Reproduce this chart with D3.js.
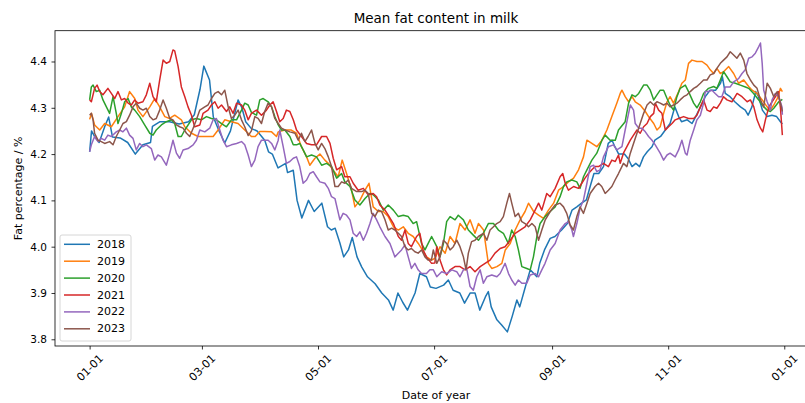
<!DOCTYPE html>
<head>
  <meta charset="utf-8">
  <title>Mean fat content in milk</title>
  <script src="https://d3js.org/d3.v7.min.js"></script>
  <style>
    body { margin: 0; background: #fff; }
    text { font-family: "DejaVu Sans", sans-serif; fill: #000; }
  </style>
</head>
<body>
<script>
// day of year (0 = Jan 1) and mean fat percentage
var years = ["2018", "2019", "2020", "2021", "2022", "2023"];
var colors = ["#1f77b4", "#ff7f0e", "#2ca02c", "#d62728", "#9467bd", "#8c564b"];
var yTicks = [3.8, 3.9, 4.0, 4.1, 4.2, 4.3, 4.4];

var fat2018 = [[0,4.205],[1,4.25],[3,4.235],[5,4.225],[8,4.26],[10,4.28],[12,4.237],[16,4.235],[20,4.225],[24,4.20],[28,4.22],[32,4.225],[33,4.26],[37,4.27],[42,4.27],[47,4.265],[52,4.27],[55,4.285],[58,4.34],[60,4.39],[63,4.36],[65,4.28],[68,4.25],[71,4.224],[74,4.25],[78,4.317],[80,4.30],[82,4.27],[85,4.255],[88,4.25],[92,4.23],[94,4.205],[96,4.20],[99,4.17],[103,4.18],[104,4.16],[107,4.165],[109,4.10],[111.5,4.062],[115,4.10],[118,4.076],[122,4.094],[125,4.043],[127,4.036],[129,4.04],[131.5,4.008],[133.5,3.978],[136,3.993],[138,4.02],[140.5,3.978],[143,3.956],[146,3.935],[150,3.92],[153.5,3.90],[157,3.885],[159.5,3.863],[162,3.90],[164.5,3.88],[167,3.863],[171,3.90],[173.5,3.942],[177,3.935],[179,3.913],[182,3.91],[186,3.917],[188.5,3.928],[191,3.906],[194.5,3.90],[197,3.878],[200,3.90],[202.5,3.90],[205,3.863],[208,3.892],[209.5,3.903],[211,3.87],[214,3.842],[216.5,3.831],[219.5,3.816],[222,3.849],[224.5,3.885],[226,3.87],[229,3.914],[231.5,3.95],[235,3.935],[236.5,3.964],[239,3.993],[242,4.018],[244.5,4.022],[248,4.036],[251,4.05],[253.5,4.079],[256,4.086],[258.5,4.094],[261,4.101],[263,4.13],[265,4.158],[267.5,4.158],[270,4.173],[272.5,4.223],[274.5,4.23],[276,4.216],[278,4.20],[281,4.20],[283,4.19],[285,4.173],[287,4.18],[289,4.173],[291,4.194],[293,4.205],[295.5,4.216],[297,4.23],[300,4.238],[302.5,4.252],[305,4.266],[307.5,4.302],[309.5,4.281],[311,4.27],[314,4.274],[316.5,4.266],[318,4.277],[321,4.302],[323.5,4.324],[326,4.338],[329,4.338],[331.5,4.353],[332.5,4.367],[334,4.331],[336.5,4.324],[339,4.313],[342,4.302],[344.5,4.295],[346,4.284],[348,4.302],[350,4.335],[351.5,4.324],[353.5,4.295],[356,4.281],[358.5,4.284],[361,4.281],[363,4.27],[364,4.265]];

var fat2019 = [[0,4.275],[1,4.288],[2.6,4.263],[5.3,4.252],[7.9,4.266],[11.4,4.259],[14.9,4.281],[18.4,4.302],[21,4.335],[23.7,4.32],[25.4,4.295],[28,4.281],[31.6,4.302],[34.2,4.32],[36.8,4.302],[39.5,4.281],[42,4.277],[44.7,4.284],[48.2,4.274],[50,4.259],[53.5,4.245],[57,4.238],[60.5,4.238],[64.9,4.238],[67.5,4.252],[71,4.274],[74.5,4.27],[78,4.266],[81.5,4.252],[85,4.238],[87,4.238],[89.4,4.249],[92,4.249],[95.6,4.248],[98.2,4.238],[99.1,4.248],[102.6,4.252],[106,4.252],[108.7,4.245],[111.3,4.216],[114,4.194],[115.7,4.176],[118.4,4.191],[121,4.2],[123.6,4.187],[125.4,4.18],[128,4.165],[130.6,4.151],[132.7,4.187],[135,4.158],[137.6,4.123],[139.4,4.086],[142,4.1],[144.7,4.122],[146.8,4.137],[149,4.086],[151.7,4.076],[154.3,4.076],[156.9,4.065],[159.6,4.043],[162.2,4.036],[164.8,4.043],[167.4,4.029],[170,4.022],[172.7,4.007],[174.4,3.996],[177,3.978],[179.7,3.971],[181.5,3.975],[184.1,4.0],[186.8,3.986],[189.4,4.022],[192,4.007],[194.6,4.05],[197.3,4.036],[199.9,4.058],[202.5,4.029],[204.3,4.05],[207,4.036],[209.5,3.964],[211.3,3.953],[214,3.957],[216.6,3.964],[218.4,3.993],[221,4.007],[223.6,4.036],[226.2,4.058],[228.8,4.076],[230.6,4.094],[233.3,4.076],[235.9,4.068],[238.5,4.061],[241.1,4.079],[243.8,4.094],[246.4,4.122],[249,4.13],[251.6,4.14],[254.3,4.148],[256.9,4.166],[259.5,4.194],[261.3,4.23],[263.9,4.223],[266.5,4.216],[269.2,4.23],[271.8,4.252],[274.4,4.281],[277,4.31],[278.8,4.331],[279.7,4.338],[281.4,4.324],[283.2,4.313],[285,4.324],[286.7,4.313],[289.3,4.306],[292,4.292],[293.7,4.281],[296.4,4.266],[298.1,4.252],[299.8,4.259],[301.6,4.288],[303.4,4.313],[305,4.324],[306.8,4.31],[309.5,4.335],[311.2,4.353],[313,4.36],[314.7,4.396],[316.5,4.403],[319.1,4.4],[321.8,4.4],[324.4,4.392],[326.1,4.382],[327.9,4.374],[329.6,4.385],[331.4,4.374],[333.1,4.378],[335.8,4.389],[338.4,4.374],[341,4.353],[343.7,4.36],[346.3,4.346],[348.1,4.338],[350.7,4.331],[353.4,4.317],[356,4.302],[357.7,4.295],[359.5,4.306],[361.3,4.32],[363,4.342],[364,4.335]];

var fat2020 = [[0,4.317],[0.9,4.345],[1.8,4.349],[3.5,4.335],[5.3,4.338],[7,4.317],[8.8,4.302],[10.5,4.288],[12.3,4.324],[14,4.288],[14.9,4.266],[16.7,4.288],[18.4,4.313],[20.2,4.32],[21.9,4.302],[23.7,4.295],[26.3,4.281],[28.9,4.263],[31.6,4.245],[33.3,4.241],[35,4.252],[37.7,4.263],[40.3,4.27],[43,4.274],[44.7,4.266],[46.5,4.238],[48.2,4.238],[50,4.252],[53.5,4.274],[56.1,4.277],[58.7,4.274],[61.4,4.281],[64,4.277],[66.6,4.274],[69.3,4.266],[71.9,4.259],[74.5,4.274],[77.2,4.274],[79.8,4.295],[81.5,4.31],[83.3,4.306],[85,4.29],[87.7,4.284],[89.4,4.317],[91.2,4.32],[93.8,4.313],[95.6,4.302],[97.3,4.281],[99.1,4.263],[100.8,4.252],[102.6,4.252],[105.2,4.238],[107,4.22],[108.7,4.22],[110.4,4.223],[112.2,4.209],[114,4.194],[116.6,4.198],[119.2,4.194],[121.9,4.176],[124.5,4.18],[127.1,4.173],[129.8,4.148],[132.4,4.158],[134.1,4.14],[136.8,4.13],[139.4,4.101],[142,4.09],[144.7,4.104],[147.3,4.115],[149,4.112],[151.7,4.101],[154.3,4.079],[156.9,4.09],[159.6,4.079],[162.2,4.065],[164.8,4.068],[167.4,4.065],[170,4.05],[171.8,4.054],[174.4,4.007],[176.2,3.993],[177.9,4.007],[179.7,4.022],[182.4,4.0],[184.1,3.978],[185.9,4.007],[187.6,4.054],[189.4,4.065],[192,4.058],[193.7,4.068],[196.4,4.058],[199,4.036],[201.6,4.025],[204.3,4.014],[206.9,4.029],[209.5,4.05],[212.2,4.05],[214.8,4.036],[217.4,4.029],[220,4.007],[221.8,4.036],[223.6,4.022],[225.3,3.993],[227.1,3.957],[229.7,3.953],[231.5,3.95],[233.2,3.978],[235,4.022],[236.7,4.05],[239.3,4.065],[242,4.076],[244.6,4.086],[247.2,4.108],[249,4.13],[250.7,4.14],[253.4,4.144],[256,4.14],[257.7,4.126],[259.5,4.151],[261.3,4.166],[263.9,4.187],[266.5,4.202],[269.2,4.23],[270.9,4.241],[273.5,4.23],[276.2,4.23],[277.9,4.252],[281.4,4.27],[283.2,4.31],[285,4.328],[286.7,4.324],[288.5,4.331],[291.1,4.349],[292.9,4.349],[294.6,4.338],[296.4,4.317],[298.1,4.328],[299.8,4.338],[301.6,4.338],[303.4,4.32],[305,4.306],[306.8,4.295],[308.6,4.324],[310.3,4.342],[313,4.349],[314.7,4.335],[317.4,4.31],[319.1,4.3],[320.9,4.313],[322.6,4.331],[325.2,4.342],[327.9,4.346],[329.6,4.342],[331.4,4.36],[333.1,4.378],[334.9,4.367],[336.6,4.356],[339.3,4.353],[341.9,4.349],[344.6,4.345],[346.3,4.342],[348.9,4.331],[351.6,4.317],[353.4,4.306],[356,4.295],[357.7,4.292],[359.5,4.299],[362.1,4.313],[364,4.318]];

var fat2021 = [[0,4.317],[0.9,4.313],[2.6,4.342],[3.9,4.349],[5.3,4.335],[7,4.328],[9.6,4.342],[11.4,4.331],[13.2,4.32],[14.9,4.335],[16.7,4.317],[18.4,4.32],[20.2,4.31],[21.9,4.306],[23.7,4.317],[25.4,4.31],[28,4.313],[29.8,4.328],[31.6,4.353],[33.3,4.324],[35,4.313],[36.8,4.36],[38.6,4.403],[40.3,4.396],[42.1,4.4],[43.8,4.425],[44.7,4.423],[46.5,4.389],[48.2,4.345],[50,4.324],[51.7,4.302],[53.5,4.284],[55.2,4.259],[57.9,4.263],[59.6,4.288],[62.2,4.295],[64,4.306],[65.8,4.313],[67.5,4.299],[69.3,4.306],[71.9,4.292],[73.6,4.302],[75.4,4.288],[77.2,4.31],[79.8,4.306],[81.5,4.295],[83.3,4.274],[85,4.288],[87.7,4.295],[90.3,4.284],[92.9,4.295],[94.7,4.306],[96.4,4.313],[98.2,4.292],[99.9,4.27],[101.7,4.277],[103.4,4.295],[105.2,4.292],[107,4.274],[108.7,4.252],[111.3,4.238],[114,4.223],[116.6,4.22],[119.2,4.22],[121.9,4.238],[124.5,4.238],[126.3,4.223],[128,4.191],[129.8,4.166],[132.4,4.173],[134.1,4.151],[136.8,4.151],[138.5,4.137],[141.1,4.122],[143.8,4.126],[146.4,4.112],[149,4.115],[150.8,4.108],[152.5,4.09],[155.2,4.079],[156.9,4.068],[159.6,4.05],[162.2,4.022],[163.9,4.014],[165.7,4.036],[167.4,4.007],[169.1,4.0],[171.8,4.022],[173.5,4.029],[175.2,3.993],[177,3.978],[179.7,3.964],[181.4,3.965],[182.4,4.0],[184.1,3.971],[185.9,3.95],[187.6,3.939],[189.4,3.95],[192,3.957],[194.6,3.957],[197.3,3.95],[199.9,3.957],[202.5,3.946],[205.2,3.957],[207.8,3.964],[210.4,3.971],[213,3.986],[215.7,3.996],[218.3,4.0],[221,4.014],[223.6,4.029],[226.2,4.036],[228.8,4.043],[231.5,4.058],[234.1,4.079],[235.9,4.094],[237.6,4.079],[240.2,4.115],[242,4.108],[244.6,4.126],[247.2,4.151],[248.6,4.158],[249.9,4.137],[251.6,4.122],[254.3,4.13],[256.9,4.126],[258.6,4.137],[260.3,4.148],[262.1,4.158],[263.9,4.166],[265.6,4.173],[267.4,4.173],[270,4.18],[272.6,4.173],[274.4,4.187],[276.2,4.184],[277.9,4.198],[278.8,4.18],[280.5,4.202],[282.3,4.216],[284.1,4.23],[285.8,4.241],[287.6,4.252],[289.3,4.245],[291.1,4.259],[292.9,4.266],[294.6,4.281],[296.4,4.288],[297.2,4.31],[299,4.295],[300.7,4.288],[302.5,4.252],[304.2,4.259],[306,4.266],[307.7,4.274],[309.5,4.277],[312.1,4.281],[314.7,4.277],[317.4,4.277],[319.1,4.284],[320.9,4.302],[322.6,4.317],[324.4,4.295],[326.1,4.292],[327.9,4.302],[329.6,4.299],[331.4,4.31],[333.1,4.324],[334.9,4.317],[337.5,4.313],[340.2,4.331],[342.8,4.324],[345.5,4.313],[347.2,4.317],[349,4.302],[350.7,4.274],[352.5,4.256],[353.7,4.248],[355.1,4.274],[356.9,4.302],[358.6,4.313],[360.4,4.324],[362,4.335],[363,4.30],[364,4.241]];

var fat2022 = [[0,4.205],[0.9,4.22],[2.6,4.238],[4.4,4.227],[6.1,4.234],[7.9,4.23],[9.6,4.241],[11.4,4.238],[14,4.248],[15.8,4.252],[17.5,4.248],[19.3,4.256],[21,4.241],[22.8,4.234],[24.5,4.209],[26.3,4.223],[28,4.216],[29.8,4.22],[32.4,4.212],[34.2,4.187],[35.9,4.198],[37.7,4.194],[40.3,4.176],[42.1,4.202],[43.8,4.23],[45.6,4.202],[47.3,4.191],[49.1,4.209],[51.7,4.212],[54.4,4.22],[56.1,4.23],[57.9,4.252],[60.5,4.248],[63.1,4.256],[64.9,4.274],[66.6,4.277],[68.4,4.252],[70.1,4.23],[71.9,4.216],[74.5,4.22],[77.2,4.223],[79.8,4.227],[81.5,4.22],[83.3,4.198],[85,4.173],[86.8,4.187],[88.5,4.216],[90.3,4.23],[93.8,4.23],[95.6,4.223],[97.3,4.209],[99.1,4.23],[99.9,4.252],[101.7,4.216],[103.4,4.18],[105.2,4.184],[107,4.191],[108.7,4.194],[110.4,4.173],[112.2,4.137],[114,4.144],[115.7,4.158],[117.5,4.162],[119.2,4.151],[121,4.14],[123.6,4.137],[125.4,4.126],[127.1,4.108],[128.9,4.104],[131.5,4.058],[133.2,4.072],[135,4.068],[136.8,4.058],[138.5,4.029],[140.3,4.022],[142,4.032],[143.8,4.014],[145.5,4.029],[147.3,4.05],[149,4.072],[150.8,4.058],[152.5,4.043],[155.2,4.022],[157.8,4.007],[160.4,3.978],[162.2,3.986],[163.9,3.993],[165.7,4.004],[167.4,3.978],[169.1,3.953],[170.9,3.964],[172.6,3.95],[174.4,3.942],[177,3.942],[178.8,3.95],[180.6,3.95],[182.4,3.935],[185,3.946],[187.6,3.942],[190.3,3.95],[192.9,3.946],[194.6,3.935],[196.4,3.95],[198.1,3.953],[199.9,3.914],[201.6,3.906],[203.4,3.935],[205.2,3.95],[206.9,3.921],[208.7,3.935],[211.3,3.939],[214,3.935],[215.7,3.942],[218.3,3.964],[220.1,3.942],[221.8,3.928],[223.6,3.917],[225.3,3.928],[227.1,3.921],[229.7,3.921],[231.5,3.939],[234.1,3.942],[235.9,3.935],[237.6,3.95],[239.3,3.964],[242,3.993],[244.6,4.007],[247.2,4.036],[249.9,4.05],[251.6,4.054],[253.4,4.036],[254.2,4.022],[256,4.05],[257.7,4.083],[259.5,4.101],[261.3,4.137],[263,4.173],[264.8,4.176],[266.5,4.162],[268.2,4.166],[270,4.194],[272.6,4.216],[275.2,4.22],[277,4.209],[279.7,4.216],[281.4,4.252],[283.2,4.288],[284.1,4.306],[285.8,4.295],[286.7,4.266],[288.5,4.256],[290.2,4.256],[292,4.248],[293.7,4.238],[295.5,4.23],[297.2,4.22],[299.8,4.202],[301.6,4.187],[303.4,4.198],[305,4.202],[307.7,4.194],[309.5,4.209],[311.2,4.23],[313,4.202],[313.9,4.198],[315.6,4.23],[317.4,4.252],[319.1,4.274],[320.9,4.284],[322.6,4.31],[323.5,4.335],[325.2,4.335],[327,4.338],[328.7,4.331],[330.5,4.324],[332.2,4.324],[334,4.345],[336.6,4.345],[338.4,4.356],[341,4.363],[342.8,4.374],[344.5,4.382],[346.3,4.407],[348.1,4.41],[349.8,4.418],[351.6,4.432],[352.5,4.44],[353.4,4.396],[354.2,4.338],[356,4.313],[357.7,4.295],[358.6,4.317],[360.3,4.331],[362.1,4.324],[363.8,4.302],[364,4.285]];

var fat2023 = [[0,4.284],[0.9,4.288],[1.8,4.274],[2.6,4.245],[4.4,4.23],[6.1,4.227],[7.9,4.223],[10.5,4.227],[12.3,4.22],[14,4.238],[15.8,4.252],[17.5,4.266],[19.3,4.27],[21,4.284],[22.8,4.302],[24.5,4.31],[26.3,4.299],[28,4.295],[29.8,4.299],[31.6,4.281],[33.3,4.274],[35,4.277],[36.8,4.295],[38.6,4.317],[40.3,4.299],[42.1,4.277],[43.8,4.274],[45.6,4.263],[47.3,4.259],[49.1,4.256],[50.9,4.245],[52.6,4.238],[54.4,4.256],[56.1,4.274],[57.9,4.295],[60.5,4.302],[62.2,4.306],[64,4.32],[65.8,4.331],[67.5,4.335],[69.3,4.328],[71,4.338],[72.8,4.302],[74.5,4.277],[76.3,4.284],[78,4.295],[79.8,4.274],[81.5,4.259],[83.3,4.24],[85,4.25],[86.8,4.281],[88.5,4.277],[90.3,4.266],[92,4.292],[93.8,4.31],[95.6,4.302],[97.3,4.277],[99.1,4.266],[100.8,4.256],[102.6,4.252],[105.2,4.248],[107.9,4.245],[109.6,4.23],[111.3,4.245],[113.1,4.227],[114.8,4.238],[116.6,4.252],[118.4,4.223],[120.1,4.209],[121.9,4.223],[123.6,4.212],[125.4,4.194],[127.1,4.173],[128.9,4.13],[130.6,4.13],[132.4,4.14],[134.1,4.137],[135.9,4.144],[137.6,4.126],[140.3,4.119],[142.9,4.119],[144.7,4.122],[146.4,4.115],[148.2,4.072],[149.9,4.065],[151.7,4.079],[153.4,4.076],[155.2,4.058],[156.9,4.036],[158.7,4.04],[160.4,4.036],[162.2,4.029],[163.9,4.022],[165.7,4.0],[167.4,3.993],[169.1,3.996],[170.9,3.989],[172.6,3.986],[174.4,3.993],[176.2,3.978],[177.9,3.971],[179.6,3.971],[180.6,3.993],[182.4,3.964],[184.1,3.978],[185.9,4.014],[187.6,4.007],[189.4,3.993],[191.1,4.0],[192.9,4.014],[194.6,4.0],[196.4,3.978],[197.8,3.95],[199,3.986],[200.7,4.011],[202.5,4.014],[204.3,4.022],[206.9,4.029],[208.7,4.014],[210.4,4.036],[212.2,4.043],[213.9,4.05],[215.7,4.054],[217.4,4.065],[219.2,4.094],[220.6,4.115],[221.8,4.094],[223.6,4.065],[225.3,4.072],[227.1,4.054],[228.8,4.05],[230.6,4.043],[232.4,4.05],[234.1,4.043],[235.9,4.014],[237.6,4.036],[239.4,4.058],[242,4.076],[244.6,4.09],[247.2,4.094],[249,4.086],[250.7,4.072],[252.5,4.047],[254.2,4.036],[256,4.065],[257.7,4.086],[259.5,4.072],[261.3,4.094],[263,4.115],[265.6,4.13],[267.4,4.137],[269.1,4.13],[270.9,4.115],[272.6,4.122],[274.4,4.13],[276.1,4.144],[277.9,4.158],[280.5,4.18],[282.3,4.173],[284.1,4.202],[285.8,4.223],[287.6,4.245],[289.3,4.266],[291.1,4.288],[292.9,4.306],[294.6,4.313],[296.4,4.306],[298.1,4.313],[299.8,4.31],[301.6,4.306],[303.4,4.31],[305,4.302],[306.8,4.306],[308.6,4.31],[310.3,4.317],[312.1,4.324],[313.9,4.328],[315.6,4.335],[317.4,4.342],[319.1,4.346],[320.9,4.353],[322.6,4.36],[324.4,4.36],[326.1,4.371],[327.9,4.374],[329.6,4.385],[331.4,4.396],[333.1,4.403],[334.9,4.41],[336.6,4.421],[338.4,4.414],[340.1,4.407],[341.9,4.418],[343.7,4.403],[345.4,4.374],[347.2,4.36],[349,4.349],[350.7,4.342],[352.5,4.317],[354.2,4.302],[356,4.353],[357.7,4.342],[359.5,4.324],[361.3,4.335],[363,4.31],[364,4.292]];

var series = [fat2018, fat2019, fat2020, fat2021, fat2022, fat2023];

var width = 805, height = 403;
var plotLeft = 55, plotTop = 30.7, plotRight = 817, plotBottom = 346;

var jan1 = Date.UTC(2018, 0, 1);
function dayToDate(d) { return new Date(jan1 + d * 864e5); }

var x = d3.scaleUtc()
  .domain([dayToDate(-18.2), dayToDate(382.2)])
  .range([plotLeft, plotRight]);
var y = d3.scaleLinear()
  .domain([3.7855, 4.4665])
  .range([plotBottom, plotTop]);

var svg = d3.select("body").append("svg")
  .attr("width", width)
  .attr("height", height)
  .style("display", "block");

var line = d3.line()
  .x(function(p) { return x(dayToDate(p[0])); })
  .y(function(p) { return y(p[1]); });

svg.append("g")
  .selectAll("path")
  .data(series)
  .enter().append("path")
  .attr("d", line)
  .attr("fill", "none")
  .attr("stroke", function(s, i) { return colors[i]; })
  .attr("stroke-width", 1.5)
  .attr("stroke-linejoin", "round");

// axes
var xAxis = svg.append("g")
  .attr("transform", "translate(0," + plotBottom + ")")
  .call(d3.axisBottom(x)
    .ticks(d3.utcMonth.every(2))
    .tickFormat(d3.utcFormat("%m-%d"))
    .tickSize(3.5)
    .tickSizeOuter(0));
xAxis.select(".domain").remove();
xAxis.selectAll("line").attr("stroke", "#000").attr("stroke-width", 0.8);
xAxis.selectAll("text")
  .attr("y", null).attr("dy", null)
  .attr("text-anchor", "middle")
  .attr("dominant-baseline", "central")
  .attr("transform", "translate(0,22) rotate(-45)")
  .style("font-size", "11px");

var yAxis = svg.append("g")
  .attr("transform", "translate(" + plotLeft + ",0)")
  .call(d3.axisLeft(y)
    .tickValues(yTicks)
    .tickFormat(d3.format(".1f"))
    .tickSize(3.5)
    .tickSizeOuter(0));
yAxis.select(".domain").remove();
yAxis.selectAll("line").attr("stroke", "#000").attr("stroke-width", 0.8);
yAxis.selectAll("text").attr("x", -8).style("font-size", "10.5px");

svg.append("rect")
  .attr("x", plotLeft).attr("y", plotTop)
  .attr("width", plotRight - plotLeft).attr("height", plotBottom - plotTop)
  .attr("fill", "none")
  .attr("stroke", "#000")
  .attr("stroke-width", 0.8);

// title and labels
svg.append("text")
  .attr("x", (plotLeft + plotRight) / 2).attr("y", 23)
  .attr("text-anchor", "middle")
  .style("font-size", "13.5px")
  .text("Mean fat content in milk");

svg.append("text")
  .attr("x", (plotLeft + plotRight) / 2).attr("y", 399)
  .attr("text-anchor", "middle")
  .style("font-size", "11px")
  .text("Date of year");

svg.append("text")
  .attr("transform", "translate(22," + (plotTop + plotBottom) / 2 + ") rotate(-90)")
  .attr("text-anchor", "middle")
  .style("font-size", "11px")
  .text("Fat percentage / %");

// legend
var legend = svg.append("g");
legend.append("rect")
  .attr("x", 60).attr("y", 235)
  .attr("width", 71).attr("height", 106)
  .attr("rx", 2)
  .attr("fill", "#fff").attr("fill-opacity", 0.8)
  .attr("stroke", "#cccccc").attr("stroke-width", 0.8);

years.forEach(function(yr, i) {
  var ly = 244.3 + i * 16.9;
  legend.append("line")
    .attr("x1", 64).attr("x2", 90)
    .attr("y1", ly).attr("y2", ly)
    .attr("stroke", colors[i]).attr("stroke-width", 1.5);
  legend.append("text")
    .attr("x", 97).attr("y", ly)
    .attr("dominant-baseline", "central")
    .style("font-size", "11px")
    .text(yr);
});
</script>
</body>
